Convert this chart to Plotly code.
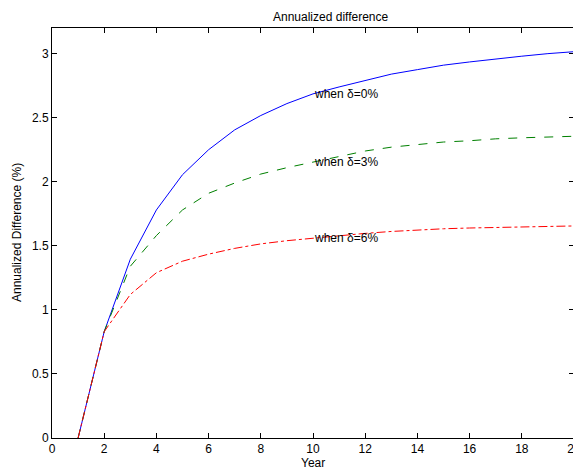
import plotly.graph_objects as go

years = list(range(1, 21))
diff_d0 = [0, 0.83, 1.395, 1.78, 2.055, 2.25, 2.405, 2.517, 2.61, 2.686, 2.74, 2.79, 2.84, 2.875, 2.91, 2.935, 2.96, 2.98, 3.0, 3.015]
diff_d3 = [0, 0.83, 1.34, 1.58, 1.78, 1.91, 1.99, 2.06, 2.11, 2.155, 2.20, 2.24, 2.27, 2.29, 2.31, 2.32, 2.335, 2.343, 2.35, 2.355]
diff_d6 = [0, 0.83, 1.12, 1.29, 1.38, 1.435, 1.48, 1.515, 1.54, 1.56, 1.575, 1.597, 1.612, 1.624, 1.633, 1.639, 1.644, 1.648, 1.652, 1.655]
labels = ["when δ=0%", "when δ=3%", "when δ=6%"]
label_x = 10

font = "Liberation Sans, Arial, sans-serif"
fig = go.Figure()
series = [(diff_d0, "#0000ff", "solid"), (diff_d3, "#008000", "dash"), (diff_d6, "#ff0000", "dashdot")]
for vals, col, dash in series:
    fig.add_trace(go.Scatter(x=years, y=vals, mode="lines",
                             line=dict(color=col, width=1, dash=dash), showlegend=False))

for lab, vals in zip(labels, [diff_d0, diff_d3, diff_d6]):
    fig.add_annotation(x=label_x, y=vals[years.index(label_x)], text=lab, showarrow=False,
                       xanchor="left", yanchor="middle", xshift=-1,
                       font=dict(family=font, size=12, color="black"))

# title and axis titles as paper annotations
fig.add_annotation(x=0.535, y=1, xref="paper", yref="paper", yshift=19, text="Annualized difference",
                   showarrow=False, xanchor="center", yanchor="top", borderpad=0,
                   font=dict(family=font, size=12, color="black"))
fig.add_annotation(x=0.5, y=0, xref="paper", yref="paper", yshift=-25, text="Year",
                   showarrow=False, xanchor="center", yanchor="middle",
                   font=dict(family=font, size=12, color="black"))
fig.add_annotation(x=0, y=0.5, xref="paper", yref="paper", xshift=-35, text="Annualized Difference (%)",
                   showarrow=False, textangle=-90, xanchor="center", yanchor="middle",
                   font=dict(family=font, size=12, color="black"))

axis_common = dict(showgrid=False, zeroline=False, showline=True, linecolor="black", linewidth=1,
                   mirror="allticks", ticks="inside", ticklen=5, tickcolor="black", automargin=False,
                   tickfont=dict(family=font, size=12, color="black"))
# page body has an 8px default margin, so the figure is sized/offset to compensate
fig.update_layout(
    width=573, height=464,
    margin=dict(l=44, r=7, t=20, b=34),
    plot_bgcolor="white", paper_bgcolor="white",
    xaxis=dict(range=[0, 20], tickmode="linear", tick0=0, dtick=2, **axis_common),
    yaxis=dict(range=[0, 3.2], tickmode="array", tickvals=[0, 0.5, 1, 1.5, 2, 2.5, 3],
               ticktext=["0", "0.5", "1", "1.5", "2", "2.5", "3"], **axis_common),
)
fig.write_html("out.html")
